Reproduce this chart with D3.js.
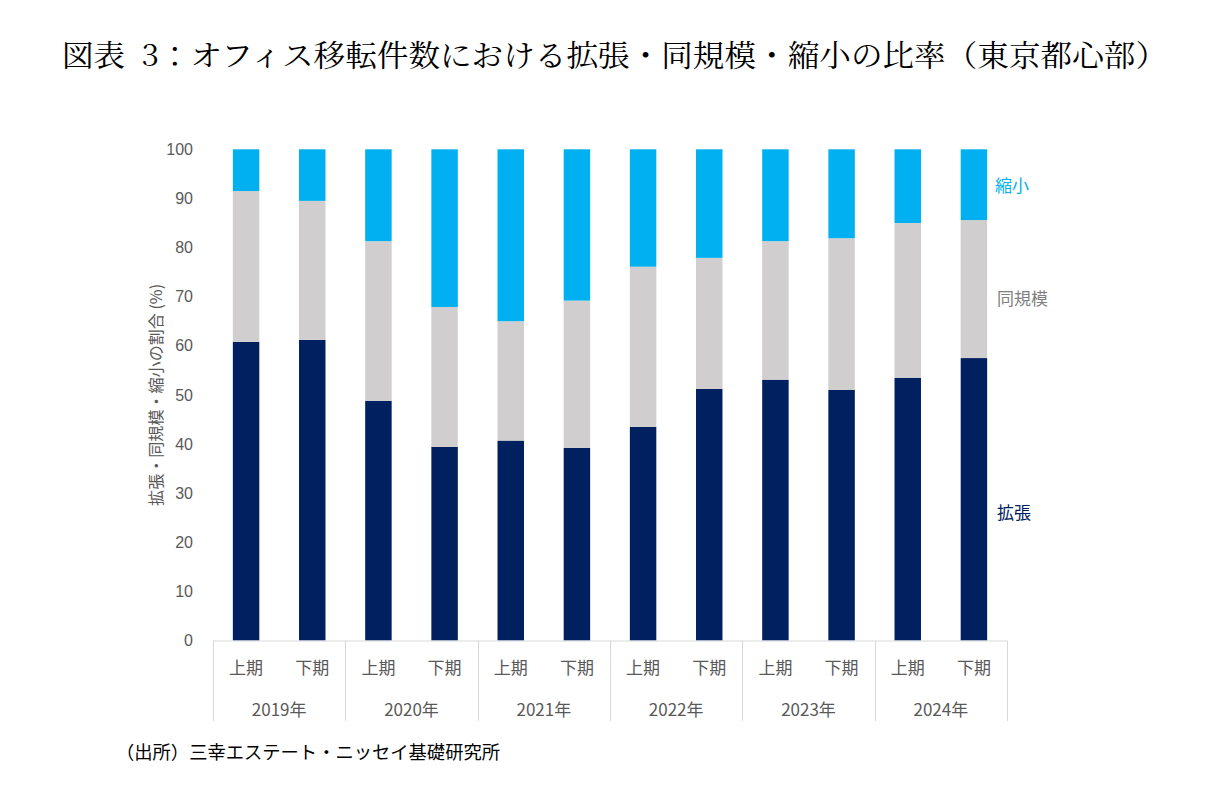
<!DOCTYPE html>
<html>
<head>
<meta charset="utf-8">
<script src="https://cdn.jsdelivr.net/npm/d3@7"></script>
<style>
  body { margin: 0; background: #fff; }
  text { font-family: "Noto Sans CJK JP", "Noto Sans", sans-serif; }
</style>
</head>
<body>
<div class="canvas"></div>
<script>
// data
const years = ['2019年', '2020年', '2021年', '2022年', '2023年', '2024年'];
const halves = ['上期', '下期'];
const periods = ['2019上', '2019下', '2020上', '2020下', '2021上', '2021下',
                 '2022上', '2022下', '2023上', '2023下', '2024上', '2024下'];
const expand = [60.8, 61.2, 48.8, 39.4, 40.7, 39.2, 43.5, 51.2, 53.1, 51.0, 53.5, 57.5];
const same   = [30.7, 28.3, 32.5, 28.5, 24.3, 30.0, 32.6, 26.7, 28.2, 30.9, 31.5, 28.1];
const shrink = expand.map((v, i) => 100 - v - same[i]);
const yTicks = [0, 10, 20, 30, 40, 50, 60, 70, 80, 90, 100];

const seriesNames = ['拡張', '同規模', '縮小'];
const colors = {'拡張': '#002060', '同規模': '#d0cece', '縮小': '#00b0f0'};
const labelColors = {'拡張': '#002060', '同規模': '#7f7f7f', '縮小': '#00b0f0'};

const dimensions = {
    width: 1219,
    height: 809,
    left: 213,
    right: 1007,
    top: 149.3,
    bottom: 640.5
};

const svg = d3.select('.canvas')
                .append('svg')
                .attr('width', dimensions.width)
                .attr('height', dimensions.height);

// title
svg.append('text')
    .attr('x', 62)
    .attr('y', 66)
    .attr('font-size', 30)
    .attr('fill', '#000')
    .style('font-family', '"Noto Serif CJK JP", "Noto Sans CJK JP", serif')
    .attr('textLength', 1105)
    .attr('lengthAdjust', 'spacingAndGlyphs')
    .style('white-space', 'pre')
    .text('図表  3：オフィス移転件数における拡張・同規模・縮小の比率（東京都心部）');

const table = periods.map((p, i) => ({
    period: p, '拡張': expand[i], '同規模': same[i], '縮小': shrink[i]
}));

const stack = d3.stack().keys(seriesNames);
const layers = stack(table);

const x = d3.scaleBand()
            .domain(periods)
            .range([dimensions.left, dimensions.right])
            .paddingInner(0.6)
            .paddingOuter(0.3);

const y = d3.scaleLinear()
            .domain([0, 100])
            .range([dimensions.bottom, dimensions.top]);

// y axis labels, no line
const yAxis = d3.axisLeft(y)
                .tickValues(yTicks)
                .tickSize(0)
                .tickPadding(0);

const yGroup = svg.append('g')
                .attr('transform', `translate(${dimensions.left - 20}, 0)`)
                .call(yAxis);
yGroup.select('.domain').remove();
yGroup.selectAll('text')
        .attr('font-size', 16)
        .attr('fill', '#595959')
        .style('font-family', '"Liberation Sans", Arial, sans-serif');

svg.append('text')
    .attr('transform', `translate(162, ${(dimensions.top + dimensions.bottom) / 2}) rotate(-90)`)
    .attr('text-anchor', 'middle')
    .attr('font-size', 16)
    .attr('fill', '#595959')
    .attr('textLength', 222)
    .attr('lengthAdjust', 'spacingAndGlyphs')
    .text('拡張・同規模・縮小の割合 (%)');

// bars
const layerGroups = svg.append('g')
                .selectAll('g')
                .data(layers)
                .join('g')
                .attr('fill', d => colors[d.key]);

layerGroups.selectAll('rect')
            .data(d => d)
            .join('rect')
            .attr('x', d => x(d.data.period))
            .attr('width', x.bandwidth())
            .attr('y', d => y(d[1]))
            .attr('height', d => y(d[0]) - y(d[1]));

// category axis
const axisColor = '#d9d9d9';
const yearWidth = (dimensions.right - dimensions.left) / years.length;

svg.append('line')
    .attr('x1', dimensions.left)
    .attr('x2', dimensions.right)
    .attr('y1', dimensions.bottom + 0.5)
    .attr('y2', dimensions.bottom + 0.5)
    .attr('stroke', axisColor);

svg.append('g')
    .selectAll('line')
    .data(d3.range(years.length + 1))
    .join('line')
    .attr('x1', i => Math.round(dimensions.left + i * yearWidth) + 0.5)
    .attr('x2', i => Math.round(dimensions.left + i * yearWidth) + 0.5)
    .attr('y1', dimensions.bottom)
    .attr('y2', 721)
    .attr('stroke', axisColor);

svg.append('g')
    .selectAll('text')
    .data(periods)
    .join('text')
    .attr('x', d => x(d) + x.bandwidth() / 2)
    .attr('y', 674)
    .attr('text-anchor', 'middle')
    .attr('font-size', 17)
    .attr('fill', '#595959')
    .text((d, i) => halves[i % 2]);

svg.append('g')
    .selectAll('text')
    .data(years)
    .join('text')
    .attr('x', (d, i) => dimensions.left + (i + 0.5) * yearWidth)
    .attr('y', 716)
    .attr('text-anchor', 'middle')
    .attr('font-size', 17)
    .attr('fill', '#595959')
    .text(d => d);

// series labels at the right of the last bar
const labelY = {'拡張': 26, '同規模': 69.5, '縮小': 92.5};

svg.append('g')
    .selectAll('text')
    .data(seriesNames)
    .join('text')
    .attr('x', d => d === '縮小' ? 995 : 997)
    .attr('y', d => y(labelY[d]) + 6)
    .attr('font-size', 17)
    .attr('fill', d => labelColors[d])
    .text(d => d);

// source
svg.append('text')
    .attr('x', 116)
    .attr('y', 759)
    .attr('font-size', 18)
    .attr('fill', '#000')
    .attr('textLength', 384)
    .attr('lengthAdjust', 'spacingAndGlyphs')
    .text('（出所）三幸エステート・ニッセイ基礎研究所');
</script>
</body>
</html>
